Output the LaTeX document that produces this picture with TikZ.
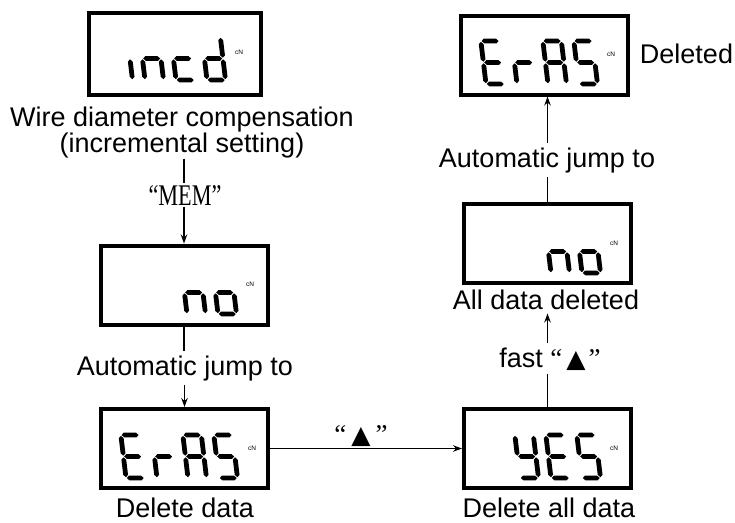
\documentclass[tikz,border=0pt]{standalone}
\usepackage{fontspec}
\setmainfont{Liberation Sans}
\newfontfamily\quotefont{Liberation Serif}
\newfontfamily\symfont{DejaVu Sans}
\usetikzlibrary{arrows.meta}

% seven-segment geometry (local units, y up, origin = bottom-left of a cell)
\def\segW{18.5}
\def\segH{43}
\def\segT{2.4}
\def\segG{0.8}
\newcommand\lcdhbar[1]{\fill ({\segG},{#1}) -- ({\segG+\segT},{#1+\segT}) -- ({\segW-\segG-\segT},{#1+\segT}) -- ({\segW-\segG},{#1}) -- ({\segW-\segG-\segT},{#1-\segT}) -- ({\segG+\segT},{#1-\segT}) -- cycle;}
\newcommand\lcdvbar[3]{\fill ({#1},{#2+\segG}) -- ({#1+\segT},{#2+\segG+\segT}) -- ({#1+\segT},{#3-\segG-\segT}) -- ({#1},{#3-\segG}) -- ({#1-\segT},{#3-\segG-\segT}) -- ({#1-\segT},{#2+\segG+\segT}) -- cycle;}
\newcommand\lcdsega{\lcdhbar{\segH}}
\newcommand\lcdsegg{\lcdhbar{\segH/2}}
\newcommand\lcdsegd{\lcdhbar{0}}
\newcommand\lcdsegf{\lcdvbar{0}{\segH/2}{\segH}}
\newcommand\lcdsege{\lcdvbar{0}{0}{\segH/2}}
\newcommand\lcdsegb{\lcdvbar{\segW}{\segH/2}{\segH}}
\newcommand\lcdsegc{\lcdvbar{\segW}{0}{\segH/2}}
% one character: x of cell, y of cell bottom, list of lit segments
\newcommand\lcdchar[3]{%
  \begin{scope}[shift={(#1,#2)},yscale=-1,xslant=0.12]
    \foreach \s in {#3}{\csname lcdseg\s\endcsname}
  \end{scope}}

\tikzset{
  lcdbox/.style={draw, line width=4pt, minimum width=167pt, minimum height=79pt, inner sep=0pt},
  txt/.style={font=\fontsize{27}{27}\selectfont, inner sep=4pt, anchor=base},
  unitmark/.style={font=\fontsize{6.5}{6.5}\selectfont, inner sep=0pt},
  plain/.style={line width=1.4pt},
  flow/.style={line width=1.4pt, -{Stealth[length=9pt,width=6.5pt]}},
  tri/.style={font=\symfont\fontsize{25}{25}\selectfont},
}

\begin{document}
\begin{tikzpicture}[x=1pt,y=-1pt]
\useasboundingbox (0,0) rectangle (735,522);

% displays
\node[lcdbox, minimum width=172pt, minimum height=82pt] (b1) at (175,54) {};
\node[lcdbox] (b2) at (184,285) {};
\node[lcdbox] (b3) at (184.5,448.5) {};
\node[lcdbox] (b4) at (547.5,448.5) {};
\node[lcdbox] (b5) at (544.5,55) {};
\node[lcdbox] (b6) at (547.5,243.5) {};

% display contents
\lcdchar{114}{80}{c}
\lcdchar{145}{80}{c,e,g}
\lcdchar{176}{80}{d,e,g}
\lcdchar{207}{80}{b,c,d,e,g}
\node[unitmark] (u1) at (239,52) {cN};

\lcdchar{187}{314}{c,e,g}
\lcdchar{218}{314}{c,d,e,g}
\node[unitmark] (u2) at (250,284) {cN};

\lcdchar{126}{478}{a,d,e,f,g}
\lcdchar{157}{478}{e,g}
\lcdchar{188}{478}{a,b,c,e,f,g}
\lcdchar{219}{478}{a,c,d,f,g}
\node[unitmark] (u3) at (252,448) {cN};

\lcdchar{520}{478}{b,c,d,f,g}
\lcdchar{551}{478}{a,d,e,f,g}
\lcdchar{582}{478}{a,c,d,f,g}
\node[unitmark] (u4) at (614,448) {cN};

\lcdchar{486}{84}{a,d,e,f,g}
\lcdchar{517}{84}{e,g}
\lcdchar{548}{84}{a,b,c,e,f,g}
\lcdchar{579}{84}{a,c,d,f,g}
\node[unitmark] (u5) at (611,54) {cN};

\lcdchar{551}{273}{c,e,g}
\lcdchar{582}{273}{c,d,e,g}
\node[unitmark] (u6) at (614,243) {cN};

% captions
\node[txt, inner sep=0pt] (wire) at (182,126) {Wire diameter compensation};
\node[txt, inner sep=0pt] (incr) at (182,152) {(incremental setting)};
\node[anchor=base, inner sep=2pt, font=\quotefont\fontsize{30}{30}\selectfont] (mem) at (185,205) {\scalebox{0.74}[1]{“MEM”}};
\node[txt] (auto1) at (185,375) {Automatic jump to};
\node[txt] (deldata) at (185,517) {Delete data};
\node[txt] (delall) at (549,517) {Delete all data};
\node[txt] (fast) at (550,367) {fast {\quotefont“}\hspace{4pt}{\symfont\fontsize{25}{25}\selectfont ▲}\hspace{3pt}{\quotefont”}};
\node[txt] (alldel) at (546,309) {All data deleted};
\node[txt] (auto2) at (547,167) {Automatic jump to};
\node[txt] (deleted) at (686.5,63) {Deleted};
\node[txt] (tri) at (361,443) {{\quotefont“}\hspace{5pt}{\symfont\fontsize{25}{25}\selectfont ▲}\hspace{5pt}{\quotefont”}};

% connectors
\draw[plain] ([yshift=-1pt]incr.south -| b2.north) -- (mem.north -| b2.north);
\draw[flow] (mem.south -| b2.north) -- (b2.north);
\draw[plain] (b2.south) -- (b2.south |- auto1.north);
\draw[flow] (b3.north |- auto1.south) -- (b3.north);
\draw[flow] (b3.east) -- (b4.west);
\draw[plain] (b4.north) -- (b4.north |- fast.south);
\draw[flow] (b4.north |- fast.north) -- (b4.north |- alldel.south);
\draw[plain] (b6.north) -- (b6.north |- auto2.south);
\draw[flow] (b6.north |- auto2.north) -- (b6.north |- b5.south);
\end{tikzpicture}
\end{document}
